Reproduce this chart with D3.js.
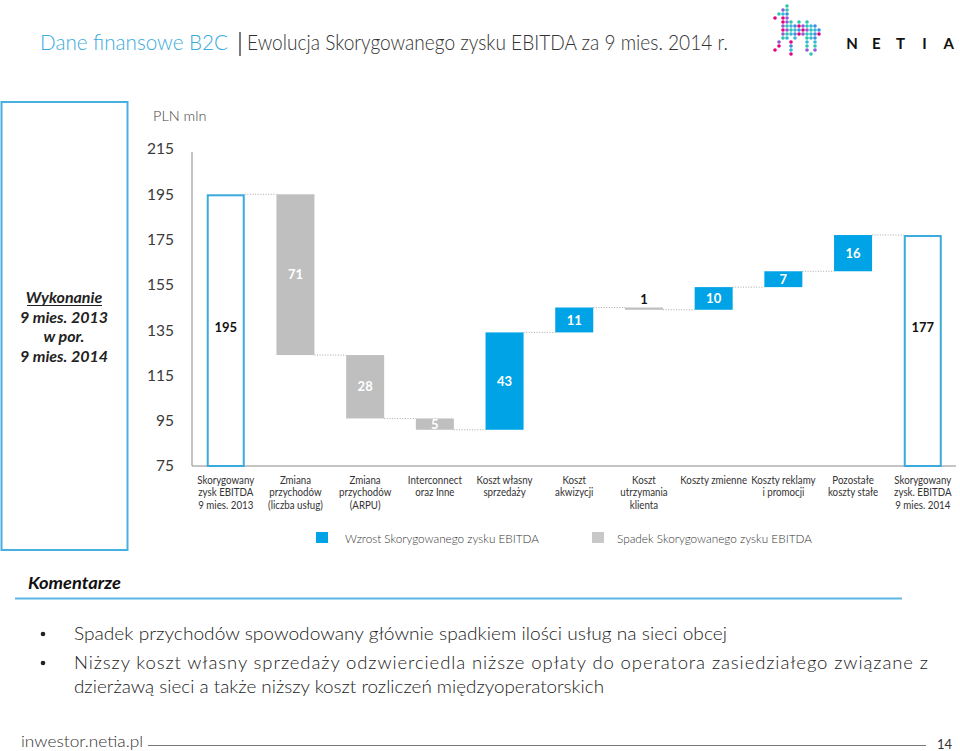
<!DOCTYPE html>
<html><head><meta charset="utf-8">
<script src="https://cdn.jsdelivr.net/npm/d3@7"></script>
<style>
html,body{margin:0;padding:0;background:#fff;}
svg{display:block;font-family:Lato,"Open Sans",sans-serif;}
</style></head>
<body>
<svg id="chart" width="960" height="751"></svg>
<script>
// ---- data ----
const categories = [
  ["Skorygowany","zysk EBITDA","9 mies. 2013"],
  ["Zmiana","przychodów","(liczba usług)"],
  ["Zmiana","przychodów","(ARPU)"],
  ["Interconnect","oraz Inne"],
  ["Koszt własny","sprzedaży"],
  ["Koszt","akwizycji"],
  ["Koszt","utrzymania","klienta"],
  ["Koszty zmienne"],
  ["Koszty reklamy","i promocji"],
  ["Pozostałe","koszty stałe"],
  ["Skorygowany","zysk. EBITDA","9 mies. 2014"]
];
const barTypes = ["total","change","change","change","change","change","change","change","change","change","total"];
const values = [195, -71, -28, -5, 43, 11, -1, 10, 7, 16, 177];
const yTicks = [75, 95, 115, 135, 155, 175, 195, 215];
const legendLabels = ["Wzrost Skorygowanego zysku EBITDA", "Spadek Skorygowanego zysku EBITDA"];
const titleLeft = "Dane finansowe B2C";
const titleRight = "Ewolucja Skorygowanego zysku EBITDA za 9 mies. 2014 r.";
const unitLabel = "PLN mln";
const sideLines = ["Wykonanie", "9 mies. 2013", "w por.", "9 mies. 2014"];
const commentLines = [
  {text:"Spadek przychodów spowodowany głównie spadkiem ilości usług na sieci obcej", bullet:true},
  {text:"Niższy koszt własny sprzedaży odzwierciedla niższe opłaty do operatora zasiedziałego związane z", bullet:true},
  {text:"dzierżawą sieci a także niższy koszt rozliczeń międzyoperatorskich", bullet:false}
];
const logoMap = [
  "...X........",
  "..XX........",
  ".XXX........",
  "X.XX........",
  "..XXX.X.X...",
  "..XXXXXXXXX.",
  "..XXXXXXXXXX",
  "..XXXXXXXXXX",
  "..XX.X..XXX.",
  ".X..X...X.X.",
  ".X..X...X.X.",
  "X...X...X.X.",
  "....X....X.."
];

// ---- styles ----
const BLUE = "#00a3e6", GREY = "#bfbfbf", OUTLINE = "#3aa9dc", TEXT = "#333";

const svg = d3.select("#chart");

// waterfall computation
let run = 0;
const bars = values.map((v, i) => {
  let lo, hi, end;
  if (barTypes[i] === "total") { lo = 75; hi = v; end = v; }
  else { const start = run; end = run + v; lo = Math.min(start, end); hi = Math.max(start, end); }
  run = end;
  return {i, v, lo, hi, end, type: barTypes[i]};
});

const x = d3.scaleBand().domain(d3.range(categories.length)).range([192.8, 955.7]).paddingInner(0.4548).paddingOuter(0.2);
const y = d3.scaleLinear().domain([75, 215]).range([466, 149]);

// ---- header ----
svg.append("text").attr("x", 40).attr("y", 50).attr("font-size", 22).attr("font-weight", 300)
  .attr("fill", "#3aaadc").attr("textLength", 188).attr("lengthAdjust", "spacingAndGlyphs").text(titleLeft);
svg.append("line").attr("x1", 240).attr("x2", 240).attr("y1", 32).attr("y2", 56).attr("stroke", "#333").attr("stroke-width", 1.3);
svg.append("text").attr("x", 247).attr("y", 50).attr("font-size", 22).attr("font-weight", 300)
  .attr("fill", "#333").attr("textLength", 481).attr("lengthAdjust", "spacingAndGlyphs").text(titleRight);

// logo
const logoColors = ["#e5007d", "#2ac6b0", "#3b8ede", "#8e5bd3", "#35b8d8"];
const logo = svg.append("g").attr("transform", "translate(775,6)");
let k = 0;
logoMap.forEach((row, r) => {
  row.split("").forEach((c, ci) => {
    if (c === "X") {
      logo.append("circle").attr("cx", ci * 4).attr("cy", r * 4).attr("r", 1.8)
        .attr("fill", logoColors[(r * 3 + ci * 2 + k) % logoColors.length]);
      k++;
    }
  });
});
["N","E","T","I","A"].forEach((ch, i) => {
  svg.append("text").attr("x", 852 + i * 24.2).attr("y", 49).attr("text-anchor", "middle")
    .attr("font-size", 15).attr("font-weight", 700).attr("fill", "#111").text(ch);
});

// left box
svg.append("rect").attr("x", 1.5).attr("y", 102).attr("width", 126).attr("height", 448)
  .attr("fill", "none").attr("stroke", "#48b0e0").attr("stroke-width", 2);
sideLines.forEach((t, i) => {
  svg.append("text").attr("x", 64).attr("y", 303 + i * 19.7).attr("text-anchor", "middle")
    .attr("font-size", 16).attr("font-weight", 700).attr("font-style", "italic").attr("fill", "#222").text(t);
});
svg.append("line").attr("x1", 27).attr("x2", 102).attr("y1", 305.5).attr("y2", 305.5).attr("stroke", "#222").attr("stroke-width", 1.2);

// unit label
svg.append("text").attr("x", 153).attr("y", 121).attr("font-size", 14.5).attr("fill", "#444").attr("font-weight", 300).text(unitLabel);

// y tick labels
svg.append("g").selectAll("text").data(yTicks).join("text")
  .attr("x", 174).attr("y", d => y(d)).attr("dy", "0.35em").attr("text-anchor", "end")
  .attr("font-size", 15.5).attr("fill", "#3a3a3a").text(d => d);

// axis lines
svg.append("line").attr("x1", 192).attr("x2", 192).attr("y1", 152).attr("y2", y(75)).attr("stroke", "#8a8a8a");
svg.append("line").attr("x1", 192).attr("x2", 956).attr("y1", y(75)).attr("y2", y(75)).attr("stroke", "#8a8a8a");

// connectors
bars.slice(0, -1).forEach((b, i) => {
  const level = b.type === "total" ? b.v : b.end;
  svg.append("line").attr("x1", x(i) + x.bandwidth()).attr("x2", x(i + 1))
    .attr("y1", y(level)).attr("y2", y(level))
    .attr("stroke", "#a8a8a8").attr("stroke-dasharray", "1,1.6").attr("stroke-width", 1);
});

// bars
svg.append("g").selectAll("rect").data(bars).join("rect")
  .attr("x", d => d.type === "total" ? x(d.i) + 1 : x(d.i))
  .attr("width", d => d.type === "total" ? x.bandwidth() - 2 : x.bandwidth())
  .attr("y", d => y(d.hi) + (d.type === "total" ? 1 : 0))
  .attr("height", d => y(d.lo) - y(d.hi) - (d.type === "total" ? 1 : 0))
  .attr("fill", d => d.type === "total" ? "none" : (d.v > 0 ? BLUE : GREY))
  .attr("stroke", d => d.type === "total" ? OUTLINE : "none")
  .attr("stroke-width", 2);

// bar labels
svg.append("g").selectAll("text").data(bars).join("text")
  .attr("x", d => x(d.i) + x.bandwidth() / 2)
  .attr("y", d => {
    if (d.type === "total") return y(136);
    if (y(d.lo) - y(d.hi) < 10) return y(d.hi) - 8;
    return (y(d.lo) + y(d.hi)) / 2;
  })
  .attr("dy", "0.35em").attr("text-anchor", "middle").attr("font-size", 13).attr("font-weight", 700)
  .attr("fill", d => (d.type === "total" || y(d.lo) - y(d.hi) < 10) ? "#111" : "#fff")
  .text(d => Math.abs(d.v));

// category labels
const cat = svg.append("g").selectAll("text").data(categories).join("text")
  .attr("text-anchor", "middle").attr("font-size", 11.3).attr("fill", TEXT)
  .attr("transform", (d, i) => `translate(${x(i) + x.bandwidth() / 2},484)`);
cat.selectAll("tspan").data(d => d).join("tspan").attr("x", 0).attr("y", (d, j) => j * 12.3).text(d => d)
  .each(function() {
    const w = this.getComputedTextLength();
    d3.select(this).attr("textLength", (w * 0.86).toFixed(1)).attr("lengthAdjust", "spacingAndGlyphs");
  });

// legend
const lg = svg.append("g");
[[316, BLUE, 345, 194], [592, "#c8c8c8", 617, 195]].forEach((p, i) => {
  lg.append("rect").attr("x", p[0]).attr("y", 532).attr("width", 12).attr("height", 11).attr("fill", p[1]);
  lg.append("text").attr("x", p[2]).attr("y", 542.5).attr("font-size", 12.5).attr("font-weight", 300).attr("fill", "#333")
    .attr("textLength", p[3]).attr("lengthAdjust", "spacingAndGlyphs").text(legendLabels[i]);
});

// comments
svg.append("text").attr("x", 28).attr("y", 589).attr("font-size", 17).attr("font-weight", 700).attr("font-style", "italic")
  .attr("fill", "#111").attr("textLength", 93).attr("lengthAdjust", "spacingAndGlyphs").text("Komentarze");
svg.append("line").attr("x1", 15).attr("x2", 902).attr("y1", 598.5).attr("y2", 598.5).attr("stroke", "#5bb8e4").attr("stroke-width", 2);
const commentY = [640, 669, 693];
const commentW = [653, 854, 530];
commentLines.forEach((c, i) => {
  if (c.bullet) svg.append("circle").attr("cx", 43).attr("cy", commentY[i] - 6).attr("r", 2.3).attr("fill", "#222");
  svg.append("text").attr("x", 74).attr("y", commentY[i]).attr("font-size", 18.5).attr("font-weight", 300).attr("fill", "#222")
    .attr("textLength", commentW[i]).attr("lengthAdjust", i === 1 ? "spacing" : "spacingAndGlyphs").text(c.text);
});

// footer
svg.append("text").attr("x", 21).attr("y", 747).attr("font-size", 15).attr("font-weight", 300).attr("fill", "#333")
  .attr("textLength", 122).attr("lengthAdjust", "spacingAndGlyphs").text("inwestor.netia.pl");
svg.append("line").attr("x1", 148).attr("x2", 926).attr("y1", 745.5).attr("y2", 745.5).attr("stroke", "#777").attr("stroke-width", 1);
svg.append("text").attr("x", 937).attr("y", 749).attr("font-size", 13).attr("fill", "#333").text("14");
</script>
</body></html>
